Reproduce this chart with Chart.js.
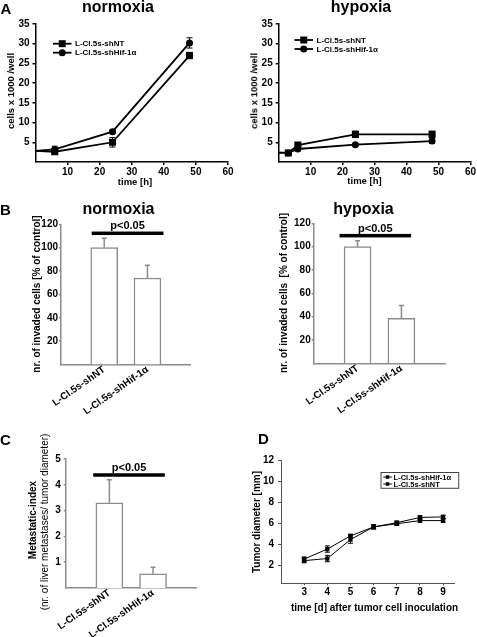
<!DOCTYPE html>
<html>
<head>
<meta charset="utf-8">
<title>L-Cl.5s shHif-1α</title>
<script src="https://cdn.jsdelivr.net/npm/chart.js@4.4.1/dist/chart.umd.min.js"></script>
<style>
  html, body { margin: 0; padding: 0; background: #fff; }
  #fig { position: relative; width: 477px; height: 637px; overflow: hidden;
         font-family: "Liberation Sans", Arial, sans-serif; color: #000; }
  #fig canvas { position: absolute; left: 0; top: 0; }
  .lbl { position: absolute; white-space: pre; line-height: 1; font-weight: bold;
         transform: translate(-50%, -50%); }
  .rot { transform: translate(-50%, -50%) rotate(-90deg); }
</style>
</head>
<body>
<div id="fig">
  <canvas id="growthNorm" width="477" height="637"></canvas>
  <canvas id="growthHyp" width="477" height="637"></canvas>
  <canvas id="invNorm" width="477" height="637"></canvas>
  <canvas id="invHyp" width="477" height="637"></canvas>
  <canvas id="metastasis" width="477" height="637"></canvas>
  <canvas id="tumor" width="477" height="637"></canvas>

  <div class="lbl" style="left:6px;top:7.5px;font-size:15px">A</div>
  <div class="lbl" style="left:118px;top:6.5px;font-size:16px">normoxia</div>
  <div class="lbl" style="left:361px;top:6.5px;font-size:16px">hypoxia</div>
  <div class="lbl rot" style="left:11px;top:91px;font-size:9.5px">cells x 1000 /well</div>
  <div class="lbl rot" style="left:253.5px;top:91px;font-size:9.5px">cells x 1000 /well</div>
  <div class="lbl" style="left:135px;top:181.5px;font-size:9.5px">time [h]</div>
  <div class="lbl" style="left:364.5px;top:181px;font-size:9.5px">time [h]</div>

  <div class="lbl" style="left:5.5px;top:209px;font-size:15px">B</div>
  <div class="lbl" style="left:118.5px;top:208.5px;font-size:16px">normoxia</div>
  <div class="lbl" style="left:363.5px;top:209px;font-size:16px">hypoxia</div>
  <div class="lbl rot" style="left:37px;top:294px;font-size:10px">nr. of invaded cells [% of control]</div>
  <div class="lbl rot" style="left:283.5px;top:293px;font-size:10px">nr. of invaded cells  [% of control]</div>

  <div class="lbl" style="left:5.5px;top:439px;font-size:15px">C</div>
  <div class="lbl rot" style="left:32.5px;top:520px;font-size:10px">Metastatic-index</div>
  <div class="lbl rot" style="left:44.5px;top:522px;font-size:10px;font-weight:normal">(nr. of liver metastases/ tumor diameter)</div>

  <div class="lbl" style="left:263.5px;top:437.5px;font-size:15px">D</div>
  <div class="lbl rot" style="left:257px;top:522px;font-size:10px">Tumor diameter [mm]</div>
  <div class="lbl" style="left:374.5px;top:607.5px;font-size:10px">time [d] after tumor cell inoculation</div>
</div>

<script>
// ---- A: cell growth (cells x 1000 / well) ----
const hoursNorm = [0, 6, 24, 48];
const normShNT = [2.8, 2.6, 5.0, 27.0];
const normShNTErr = [0, 0.4, 1.2, 0.8];
const normShHif = [2.8, 3.2, 7.7, 30.2];
const normShHifErr = [0, 0.8, 0.4, 1.3];

const hoursHyp = [0, 3, 6, 24, 48];
const hypShNT = [2.4, 2.3, 4.3, 7.0, 7.0];
const hypShNTErr = [0, 0.3, 0.5, 0.8, 0.8];
const hypShHif = [2.4, 2.3, 3.3, 4.4, 5.3];
const hypShHifErr = [0, 0.3, 0.4, 0.3, 0.6];

const hourTicks = [10, 20, 30, 40, 50, 60];
const cellTicks = [5, 10, 15, 20, 25, 30, 35];

// ---- B: invasion (% of control) ----
const groups = ["", "L-Cl.5s-shNT", "L-Cl.5s-shHif-1α", ""];
const invadedNorm = [null, 100, 74, null];
const invadedNormErr = [0, 8, 11, 0];
const invadedHyp = [null, 100, 38.5, null];
const invadedHypErr = [0, 5, 11, 0];
const percentTicks = [20, 40, 60, 80, 100, 120];

// ---- C: metastatic index ----
const metIndex = [null, 3.3, 0.55, null];
const metIndexErr = [0, 0.9, 0.25, 0];
const metTicks = [1, 2, 3, 4, 5];

// ---- D: tumor diameter [mm] ----
const days = [3, 4, 5, 6, 7, 8, 9];
const diamShHif = [2.6, 3.55, 4.8, 5.65, 6.05, 6.55, 6.6];
const diamShHifErr = [0.2, 0.3, 0.15, 0.2, 0.15, 0.15, 0.15];
const diamShNT = [2.45, 2.65, 4.45, 5.65, 5.95, 6.25, 6.25];
const diamShNTErr = [0.2, 0.3, 0.35, 0.2, 0.15, 0.15, 0.15];
const dayTicks = [3, 4, 5, 6, 7, 8, 9];
const diamTicks = [2, 4, 6, 8, 10, 12];

// significance bars: [from group, to group, level]
const pText = "p<0.05";
const sigNorm = [0.71, 2.37, 112.3];
const sigHyp = [0.59, 2.22, 109.4];
const sigMet = [0.63, 2.27, 4.38];

Chart.defaults.font.family = '"Liberation Sans", Arial, sans-serif';
Chart.defaults.font.size = 10;
Chart.defaults.font.weight = 'bold';
Chart.defaults.color = '#000';
Chart.defaults.animation = false;
Chart.defaults.responsive = false;
Chart.defaults.devicePixelRatio = 1;
Chart.defaults.plugins.legend.display = false;
Chart.defaults.plugins.tooltip.enabled = false;

const W = 477, H = 637;
const FONT = '"Liberation Sans", Arial, sans-serif';

// put the plot area at [left, top, right, bottom] of the page
function placeAt(area, hx) {
  return { padding: { left: area[0] - 30, top: area[1], right: W - area[2], bottom: H - area[3] - hx } };
}

function valueAxis(min, max, tickVals, look) {
  return {
    type: 'linear', min: min, max: max,
    afterBuildTicks: ax => { ax.ticks = tickVals.map(v => ({ value: v })); },
    afterFit: ax => { if (ax.isHorizontal()) ax.height = 40; else ax.width = 30; },
    grid: { drawOnChartArea: false, drawTicks: true, tickLength: look.tick, color: look.color, lineWidth: look.width },
    border: { color: look.color, width: look.width },
    ticks: { padding: look.pad, color: '#000' }
  };
}

function groupAxis(look, hx) {
  return {
    type: 'category', offset: false,
    afterFit: ax => { ax.height = hx; },
    grid: { display: false, drawTicks: false },
    border: { color: look.color, width: look.width },
    ticks: { autoSkip: false, minRotation: 35, maxRotation: 35, padding: 0, color: '#000',
             font: { size: 10, weight: 'bold', lineHeight: 1 } }
  };
}

const errorBars = {
  id: 'errorBars',
  afterDatasetsDraw(chart) {
    const ctx = chart.ctx, ys = chart.scales.y;
    chart.data.datasets.forEach((ds, i) => {
      if (!ds.errors) return;
      chart.getDatasetMeta(i).data.forEach((el, j) => {
        const raw = ds.data[j];
        const v = raw !== null && typeof raw === 'object' ? raw.y : raw;
        const e = ds.errors[j];
        if (v === null || !e) return;
        const x = el.x, cap = ds.errorCap;
        const top = ys.getPixelForValue(v + e);
        const bot = ys.getPixelForValue(ds.errorUp ? v : v - e);
        ctx.save();
        ctx.strokeStyle = ds.errorColor;
        ctx.lineWidth = ds.errorWidth;
        ctx.beginPath();
        ctx.moveTo(x, top); ctx.lineTo(x, bot);
        ctx.moveTo(x - cap, top); ctx.lineTo(x + cap, top);
        if (!ds.errorUp) { ctx.moveTo(x - cap, bot); ctx.lineTo(x + cap, bot); }
        ctx.stroke();
        ctx.restore();
      });
    });
  }
};

const sigBar = {
  id: 'sigBar',
  afterDraw(chart, args, o) {
    const xs = chart.scales.x, ys = chart.scales.y, ctx = chart.ctx;
    const x0 = xs.getPixelForValue(o.span[0]);
    const x1 = xs.getPixelForValue(o.span[1]);
    const y = ys.getPixelForValue(o.span[2]);
    ctx.save();
    ctx.fillStyle = '#000';
    ctx.fillRect(x0, y - 1.75, x1 - x0, 3.5);
    ctx.font = 'bold 11px ' + FONT;
    ctx.textAlign = 'center';
    ctx.textBaseline = 'alphabetic';
    ctx.fillText(o.text, (x0 + x1) / 2, y - 3.9);
    ctx.restore();
  }
};

const innerLegend = {
  id: 'innerLegend',
  afterDraw(chart, args, o) {
    const ctx = chart.ctx;
    ctx.save();
    if (o.box) {
      ctx.strokeStyle = o.boxColor;
      ctx.lineWidth = 1;
      ctx.strokeRect(o.box[0], o.box[1], o.box[2], o.box[3]);
    }
    ctx.font = o.font;
    ctx.textBaseline = 'middle';
    ctx.fillStyle = '#000';
    chart.data.datasets.forEach((ds, i) => {
      const y = o.y + i * o.row;
      ctx.strokeStyle = '#000';
      ctx.lineWidth = o.lineWidth;
      ctx.beginPath();
      ctx.moveTo(o.x, y); ctx.lineTo(o.x + o.len, y);
      ctx.stroke();
      const cx = o.x + o.len / 2;
      if (ds.pointStyle === 'circle') {
        ctx.beginPath(); ctx.arc(cx, y, o.size / 2, 0, Math.PI * 2); ctx.fill();
      } else {
        ctx.fillRect(cx - o.size / 2, y - o.size / 2, o.size, o.size);
      }
      ctx.fillText(ds.label, o.x + o.len + o.gap, y + 0.5);
    });
    ctx.restore();
  }
};

function pts(xs, ys) {
  return xs.map((x, i) => ({ x: x, y: ys[i] }));
}

function growthSet(label, xs, ys, err, style, r) {
  return {
    label: label, data: pts(xs, ys), errors: err,
    errorColor: '#000', errorWidth: 1, errorCap: 3,
    borderColor: '#000', backgroundColor: '#000', borderWidth: 1.8, tension: 0,
    pointStyle: style, pointRadius: xs.map(x => x === 0 ? 0 : r),
    pointBorderWidth: 0, pointBackgroundColor: '#000'
  };
}

const axisA = { color: '#000', width: 1.5, tick: 3, pad: 1 };
const axisAy = { color: '#000', width: 1.5, tick: 3, pad: 3 };

function growthChart(id, area, xs, nt, ntErr, hif, hifErr, legendPos) {
  new Chart(document.getElementById(id), {
    type: 'line',
    data: {
      datasets: [
        growthSet('L-Cl.5s-shNT', xs, nt, ntErr, 'rect', 5),
        growthSet('L-Cl.5s-shHif-1α', xs, hif, hifErr, 'circle', 3.5)
      ]
    },
    options: {
      layout: placeAt(area, 40),
      scales: {
        x: valueAxis(0, 60, hourTicks, axisA),
        y: valueAxis(0, 35, cellTicks, axisAy)
      },
      plugins: {
        innerLegend: { x: legendPos[0], y: legendPos[1], row: 9, len: 18.5, gap: 3.5,
                       size: 7, lineWidth: 1.8, font: 'bold 8px ' + FONT }
      }
    },
    plugins: [errorBars, innerLegend]
  });
}

growthChart('growthNorm', [35.5, 24, 228, 162], hoursNorm, normShNT, normShNTErr, normShHif, normShHifErr, [53, 43.7]);
growthChart('growthHyp', [278.7, 24, 471.3, 162], hoursHyp, hypShNT, hypShNTErr, hypShHif, hypShHifErr, [294.5, 40]);

const axisB = { color: '#8c8c8c', width: 1.5, tick: 2, pad: 1 };

function barChart(id, area, hx, values, errs, maxY, tickVals, sig, look) {
  new Chart(document.getElementById(id), {
    type: 'bar',
    data: {
      labels: groups,
      datasets: [{
        data: values, errors: errs, errorUp: true,
        errorColor: '#8c8c8c', errorWidth: 1.5, errorCap: 2.5,
        backgroundColor: '#fff', borderColor: '#8c8c8c', borderWidth: 1.5,
        barThickness: 27
      }]
    },
    options: {
      layout: placeAt(area, hx),
      scales: {
        x: groupAxis(look, hx),
        y: valueAxis(0, maxY, tickVals, look)
      },
      plugins: { sigBar: { span: sig, text: pText } }
    },
    plugins: [errorBars, sigBar]
  });
}

barChart('invNorm', [61, 224.3, 190.7, 364.5], 70, invadedNorm, invadedNormErr, 120, percentTicks, sigNorm, axisB);
barChart('invHyp', [313.7, 223.3, 445.3, 363.3], 70, invadedHyp, invadedHypErr, 120, percentTicks, sigHyp, axisB);
barChart('metastasis', [65.7, 459, 196.7, 588], 49, metIndex, metIndexErr, 5, metTicks,
         sigMet, { color: '#8c8c8c', width: 1.5, tick: 2, pad: 3 });

// ---- D ----
function tumorSet(label, ys, err) {
  return {
    label: label, data: pts(days, ys), errors: err,
    errorColor: '#000', errorWidth: 1, errorCap: 2.5,
    borderColor: '#000', backgroundColor: '#000', borderWidth: 1, tension: 0,
    pointStyle: 'rect', pointRadius: 3, pointBorderWidth: 0, pointBackgroundColor: '#000'
  };
}

new Chart(document.getElementById('tumor'), {
  type: 'line',
  data: {
    datasets: [
      tumorSet('L-Cl.5s-shHif-1α', diamShHif, diamShHifErr),
      tumorSet('L-Cl.5s-shNT', diamShNT, diamShNTErr)
    ]
  },
  options: {
    layout: placeAt([281, 460, 454.7, 583.3], 40),
    scales: {
      x: valueAxis(2, 9.5, dayTicks, { color: '#555', width: 1, tick: 2, pad: 1 }),
      y: valueAxis(0.3, 12, diamTicks, { color: '#555', width: 1, tick: 3, pad: 4 })
    },
    plugins: {
      innerLegend: { x: 383.3, y: 477, row: 7, len: 8.5, gap: 1.8, size: 3.5, lineWidth: 1,
                     font: 'bold 7.5px ' + FONT, box: [381, 472.5, 77.7, 15.8], boxColor: '#444' }
    }
  },
  plugins: [errorBars, innerLegend]
});
</script>
</body>
</html>
